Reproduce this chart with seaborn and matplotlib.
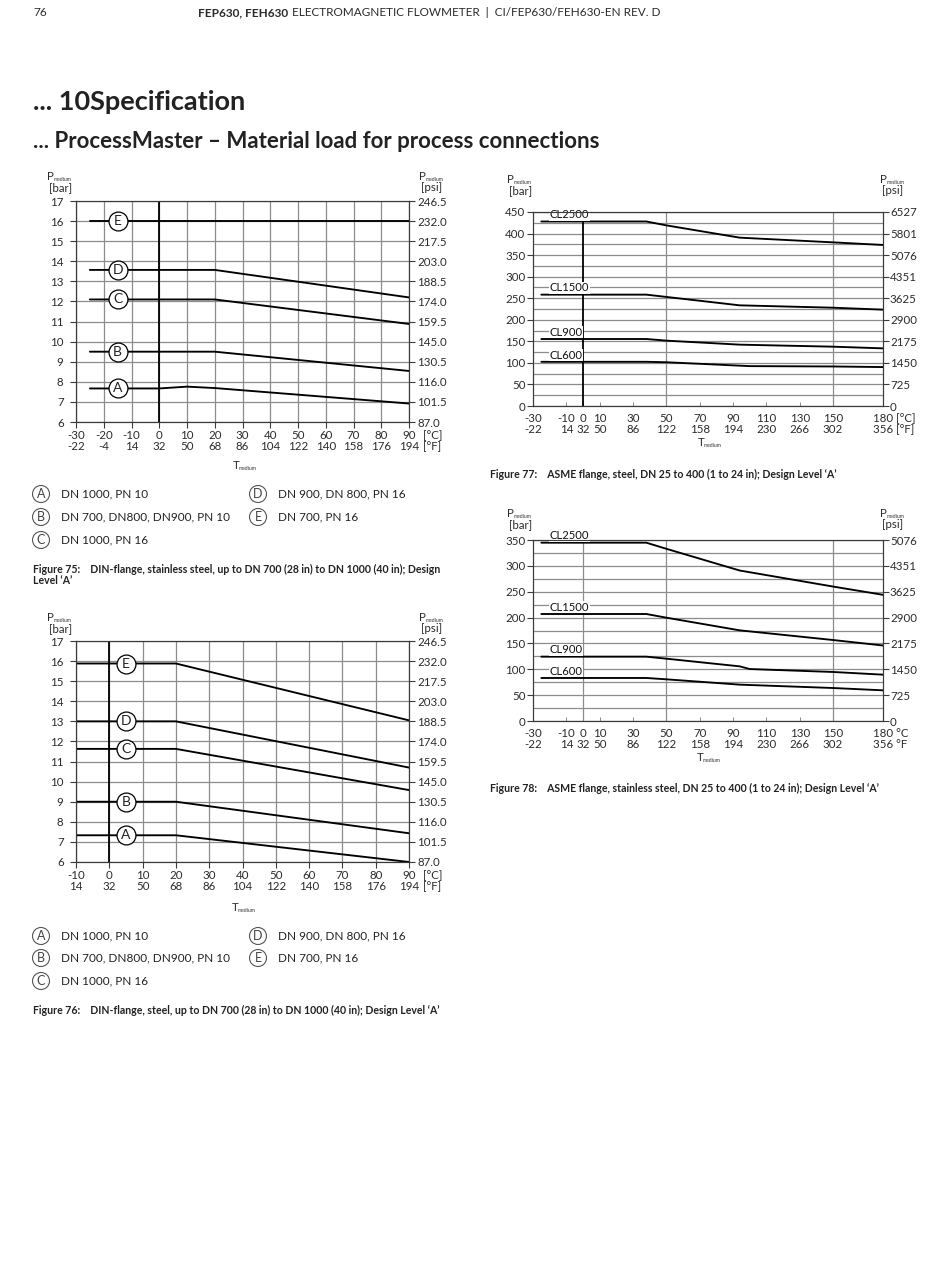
import matplotlib
matplotlib.use("Agg")
import matplotlib.pyplot as plt
from matplotlib.ticker import MultipleLocator
import numpy as np
import pandas as pd
import seaborn as sns

# ---------------- data ----------------
# Figure 75 – DIN flange, stainless steel
f75_temp_c = [-30, -20, -10, 0, 10, 20, 30, 40, 50, 60, 70, 80, 90]
f75_temp_f = ["-22", "-4", "14", "32", "50", "68", "86", "104", "122", "140", "158", "176", "194"]
din_bar_ticks = [6, 7, 8, 9, 10, 11, 12, 13, 14, 15, 16, 17]
din_psi_labels = ["87.0", "101.5", "116.0", "130.5", "145.0", "159.5", "174.0",
                  "188.5", "203.0", "217.5", "232.0", "246.5"]
f75_A_t = [-25, 0, 10, 20, 90]
f75_A_p = [7.67, 7.67, 7.76, 7.69, 6.92]
f75_B_t = [-25, 20, 90]
f75_B_p = [9.5, 9.5, 8.54]
f75_C_t = [-25, 20, 90]
f75_C_p = [12.1, 12.1, 10.88]
f75_D_t = [-25, 20, 90]
f75_D_p = [13.57, 13.57, 12.2]
f75_E_t = [-25, 90]
f75_E_p = [16.0, 16.0]
f75_marker_t = -15

# Figure 76 – DIN flange, steel
f76_temp_c = [-10, 0, 10, 20, 30, 40, 50, 60, 70, 80, 90]
f76_temp_f = ["14", "32", "50", "68", "86", "104", "122", "140", "158", "176", "194"]
f76_A_t = [-10, 20, 90]
f76_A_p = [7.33, 7.33, 6.0]
f76_B_t = [-10, 20, 90]
f76_B_p = [9.0, 9.0, 7.43]
f76_C_t = [-10, 20, 90]
f76_C_p = [11.63, 11.63, 9.58]
f76_D_t = [-10, 20, 90]
f76_D_p = [13.0, 13.0, 10.7]
f76_E_t = [-10, 20, 90]
f76_E_p = [15.88, 15.88, 13.05]
f76_marker_t = 5

# Figures 77 / 78 – ASME flanges
asme_temp_c = [-30, -10, 0, 10, 30, 50, 70, 90, 110, 130, 150, 180]
asme_temp_f = ["-22", "14", "32", "50", "86", "122", "158", "194", "230", "266", "302", "356"]

f77_bar_ticks = [0, 50, 100, 150, 200, 250, 300, 350, 400, 450]
f77_psi_labels = ["0", "725", "1450", "2175", "2900", "3625", "4351", "5076", "5801", "6527"]
f77_CL2500_t = [-25, 38, 50, 94, 150, 180]
f77_CL2500_p = [428, 428, 419, 390.5, 379.6, 373.5]
f77_CL1500_t = [-25, 38, 50, 94, 150, 180]
f77_CL1500_p = [258.3, 258.3, 253, 233.5, 228, 223.5]
f77_CL900_t = [-25, 38, 50, 94, 150, 180]
f77_CL900_p = [155.4, 155.4, 151.6, 142.3, 137.6, 133.7]
f77_CL600_t = [-25, 38, 50, 100, 150, 180]
f77_CL600_p = [102.5, 102.5, 101.5, 92.5, 91.7, 90.3]

f78_bar_ticks = [0, 50, 100, 150, 200, 250, 300, 350]
f78_psi_labels = ["0", "725", "1450", "2175", "2900", "3625", "4351", "5076"]
f78_CL2500_t = [-25, 38, 50, 94, 150, 180]
f78_CL2500_p = [344.8, 344.8, 333, 291, 260, 244]
f78_CL1500_t = [-25, 38, 50, 94, 150, 180]
f78_CL1500_p = [206.9, 206.9, 199.8, 175.3, 156.6, 146]
f78_CL900_t = [-25, 38, 50, 94, 100, 150, 180]
f78_CL900_p = [124.4, 124.4, 120.5, 105.7, 100.5, 94.8, 89.6]
f78_CL600_t = [-25, 38, 50, 94, 150, 180]
f78_CL600_p = [83.2, 83.2, 80.6, 70.3, 63.8, 59.3]

din_legend_letters = ["A", "B", "C", "D", "E"]
din_legend_texts = ["DN 1000, PN 10", "DN 700, DN800, DN900, PN 10", "DN 1000, PN 16",
                    "DN 900, DN 800, PN 16", "DN 700, PN 16"]

# ---------------- style ----------------
W, H = 950, 1277
sns.set_theme(style="white")
plt.rcParams["font.family"] = ["Lato", "DejaVu Sans"]
plt.rcParams["axes.unicode_minus"] = False
TXT = "#2b2b2b"
GRID = "#8c8c8c"
LINE_W = 1.35
TICK_FS = 8.3

fig = plt.figure(figsize=(W / 100, H / 100), dpi=100)
fig.patch.set_facecolor("white")


def fx(x):
    return x / W


def fy(y):
    return 1 - y / H


def add_axes_px(x0, y0, x1, y1):
    return fig.add_axes([x0 / W, 1 - y1 / H, (x1 - x0) / W, (y1 - y0) / H])


def draw_series(ax, series):
    rows = []
    for name, (ts, ps) in series.items():
        for t, p in zip(ts, ps):
            rows.append({"T": t, "P": p, "series": name})
    df = pd.DataFrame(rows)
    sns.lineplot(data=df, x="T", y="P", hue="series", units="series", estimator=None,
                 sort=False, palette={k: "black" for k in series}, legend=False,
                 linewidth=LINE_W, ax=ax, zorder=3)
    ax.set_xlabel("")
    ax.set_ylabel("")


def style_axes(ax):
    for s in ax.spines.values():
        s.set_visible(True)
        s.set_color("#3a3a3a")
        s.set_linewidth(0.8)


def p_label(x, y, unit):
    fig.text(fx(x), fy(y), "P", fontsize=8.3, color=TXT, va="baseline")
    fig.text(fx(x + 7), fy(y + 1), "medium", fontsize=3.6, color=TXT, va="baseline")
    fig.text(fx(x + 2), fy(y + 11), unit, fontsize=8.3, color=TXT, va="baseline")


def t_label(x, y):
    fig.text(fx(x), fy(y), "T", fontsize=8.3, color=TXT, va="baseline")
    fig.text(fx(x + 6), fy(y + 1), "medium", fontsize=3.6, color=TXT, va="baseline")


def din_chart(ax, temp_c, temp_f, series, marker_t, xlim):
    draw_series(ax, series)
    ax.set_xlim(*xlim)
    ax.set_ylim(6, 17)
    ax.set_xticks(temp_c)
    labels = [f"{c}\n{f}" for c, f in zip(temp_c, temp_f)]
    ax.set_xticklabels(labels)
    ax.set_yticks(din_bar_ticks)
    ax.set_yticklabels([str(v) for v in din_bar_ticks])
    ax.grid(True, color=GRID, linewidth=0.9)
    ax.set_axisbelow(True)
    ax.axvline(0, color="black", linewidth=1.3, zorder=2)
    ax.tick_params(axis="x", direction="out", length=4, width=0.8, color="#3a3a3a",
                   labelsize=TICK_FS, labelcolor=TXT, pad=1.5, bottom=True)
    ax.tick_params(axis="y", direction="out", length=4, width=0.8, color="#3a3a3a",
                   labelsize=TICK_FS, labelcolor=TXT, pad=5, left=True)
    for lbl in ax.get_xticklabels():
        lbl.set_linespacing(1.05)
    style_axes(ax)
    ax2 = ax.twinx()
    ax2.set_ylim(6, 17)
    ax2.set_yticks(din_bar_ticks)
    ax2.set_yticklabels(din_psi_labels)
    ax2.tick_params(axis="y", direction="out", length=4, width=0.8, color="#3a3a3a",
                    labelsize=TICK_FS, labelcolor=TXT, pad=2, right=True)
    ax2.grid(False)
    style_axes(ax2)
    # letter markers on each curve
    for name, (ts, ps) in series.items():
        py = np.interp(marker_t, ts, ps)
        ax.scatter([marker_t], [py], s=185, facecolor="white", edgecolor="black",
                   linewidths=0.9, zorder=5)
        ax.text(marker_t, py, name, ha="center", va="center", fontsize=10,
                color="#222222", zorder=6)
    ax.annotate("[°C]\n[°F]", xy=(1, 0), xycoords="axes fraction", xytext=(10, -5.5),
                textcoords="offset points", ha="left", va="top", fontsize=TICK_FS,
                color=TXT, linespacing=1.05)


def asme_chart(ax, series, bar_ticks, psi_labels, ymax, zero_black, unit_c, unit_f,
               label_offsets):
    draw_series(ax, series)
    ax.set_xlim(-30, 180)
    ax.set_ylim(0, ymax)
    ax.set_xticks(asme_temp_c)
    ax.set_xticklabels([f"{c}\n{f}" for c, f in zip(asme_temp_c, asme_temp_f)])
    ax.set_yticks(bar_ticks)
    ax.set_yticklabels([str(v) for v in bar_ticks])
    ax.yaxis.set_minor_locator(MultipleLocator(25))
    ax.grid(True, axis="y", which="both", color=GRID, linewidth=0.9)
    ax.set_axisbelow(True)
    for xv in (50, 150):
        ax.axvline(xv, color=GRID, linewidth=0.9, zorder=1)
    if zero_black:
        ax.axvline(0, ymax=433 / ymax, color="black", linewidth=1.3, zorder=2)
    else:
        ax.axvline(0, color=GRID, linewidth=0.9, zorder=1)
    ax.tick_params(axis="x", direction="in", length=3, width=0.6, color="#777777",
                   labelsize=TICK_FS, labelcolor=TXT, pad=5, bottom=True)
    ax.tick_params(axis="y", which="major", direction="out", length=4, width=0.8,
                   color="#3a3a3a", labelsize=TICK_FS, labelcolor=TXT, pad=1.5, left=True)
    ax.tick_params(axis="y", which="minor", length=0)
    labels = ax.get_xticklabels()
    labels[-1].set_text("")
    ax.set_xticklabels([l.get_text() for l in labels])
    for lbl in ax.get_xticklabels():
        lbl.set_linespacing(1.05)
    style_axes(ax)
    ax2 = ax.twinx()
    ax2.set_ylim(0, ymax)
    ax2.set_yticks(bar_ticks)
    ax2.set_yticklabels(psi_labels)
    ax2.tick_params(axis="y", direction="out", length=4, width=0.8, color="#3a3a3a",
                    labelsize=TICK_FS, labelcolor=TXT, pad=1, right=True)
    ax2.grid(False)
    style_axes(ax2)
    for name, (ts, ps) in series.items():
        ax.text(-20, ps[0] + label_offsets, name, ha="left", va="bottom",
                fontsize=8.1, color="#111111", zorder=6,
                bbox=dict(facecolor="white", edgecolor="none", pad=0.3))
    ax.annotate(f"{asme_temp_c[-1]} {unit_c}\n{asme_temp_f[-1]} {unit_f}", xy=(1, 0),
                xycoords="axes fraction", xytext=(-7, -5), textcoords="offset points",
                ha="left", va="top", fontsize=TICK_FS, color=TXT, linespacing=1.05)


# ---------------- header & titles ----------------
fig.text(fx(33), fy(13), "76", fontsize=8.5, color=TXT, va="center")
hb = fig.text(fx(198), fy(13), "FEP630, FEH630", fontsize=8.5, weight="bold",
              color=TXT, va="center")
fig.canvas.draw()
bb = hb.get_window_extent()
fig.text((bb.x1 + 4) / W, fy(13),
         "ELECTROMAGNETIC FLOWMETER  |  CI/FEP630/FEH630-EN REV. D",
         fontsize=8.5, color=TXT, va="center")
fig.text(fx(33), fy(110), "... 10Specification", fontsize=19.5, weight="bold",
         color="#222222", va="baseline")
fig.text(fx(33), fy(148), "... ProcessMaster \u2013 Material load for process connections",
         fontsize=16, weight="bold", color="#222222", va="baseline")

# ---------------- Figure 75 ----------------
ax75 = add_axes_px(76, 201, 409, 422)
din_chart(ax75, f75_temp_c, f75_temp_f,
          {"A": (f75_A_t, f75_A_p), "B": (f75_B_t, f75_B_p), "C": (f75_C_t, f75_C_p),
           "D": (f75_D_t, f75_D_p), "E": (f75_E_t, f75_E_p)},
          f75_marker_t, (-30, 90))
p_label(47, 180, "[bar]")
p_label(419, 180, "[psi]")
t_label(233, 469)

# ---------------- Figure 76 ----------------
ax76 = add_axes_px(76, 641, 409, 862)
din_chart(ax76, f76_temp_c, f76_temp_f,
          {"A": (f76_A_t, f76_A_p), "B": (f76_B_t, f76_B_p), "C": (f76_C_t, f76_C_p),
           "D": (f76_D_t, f76_D_p), "E": (f76_E_t, f76_E_p)},
          f76_marker_t, (-10, 90))
p_label(47, 621, "[bar]")
p_label(419, 621, "[psi]")
t_label(232, 911)

# ---------------- Figure 77 ----------------
ax77 = add_axes_px(533, 212, 883, 406)
asme_chart(ax77, {"CL2500": (f77_CL2500_t, f77_CL2500_p),
                  "CL1500": (f77_CL1500_t, f77_CL1500_p),
                  "CL900": (f77_CL900_t, f77_CL900_p),
                  "CL600": (f77_CL600_t, f77_CL600_p)},
           f77_bar_ticks, f77_psi_labels, 450, True, "[°C]", "[°F]", 3)
p_label(507, 183, "[bar]")
p_label(880, 183, "[psi]")
t_label(698, 446)

# ---------------- Figure 78 ----------------
ax78 = add_axes_px(533, 540, 883, 721)
asme_chart(ax78, {"CL2500": (f78_CL2500_t, f78_CL2500_p),
                  "CL1500": (f78_CL1500_t, f78_CL1500_p),
                  "CL900": (f78_CL900_t, f78_CL900_p),
                  "CL600": (f78_CL600_t, f78_CL600_p)},
           f78_bar_ticks, f78_psi_labels, 350, False, "°C", "°F", 2.5)
p_label(507, 517, "[bar]")
p_label(880, 517, "[psi]")
t_label(697, 761)


# ---------------- legends ----------------
def din_legend(y_rows):
    pos = [(41, y_rows[0]), (41, y_rows[1]), (41, y_rows[2]), (258, y_rows[0]), (258, y_rows[1])]
    for (cx, cy), letter, txt in zip(pos, din_legend_letters, din_legend_texts):
        fig.patches.append(matplotlib.patches.Ellipse((fx(cx), fy(cy)), 17 / W, 17 / H,
                                                      transform=fig.transFigure,
                                                      facecolor="white", edgecolor="#555555",
                                                      linewidth=0.8))
        fig.text(fx(cx), fy(cy), letter, ha="center", va="center", fontsize=9,
                 color="#444444")
        fig.text(fx(cx + 20), fy(cy), txt, ha="left", va="center", fontsize=8.5,
                 color="#222222")


din_legend([494, 517, 540])
din_legend([936, 958, 981])

# ---------------- captions ----------------
CAP_FS = 7.6
fig.text(fx(33), fy(569), "Figure 75:    DIN-flange, stainless steel, up to DN 700 (28 in) to DN 1000 (40 in); Design",
         fontsize=CAP_FS, weight="bold", color="#222222", va="center")
fig.text(fx(33), fy(581), "Level \u2018A\u2019", fontsize=CAP_FS, weight="bold",
         color="#222222", va="center")
fig.text(fx(33), fy(1010), "Figure 76:    DIN-flange, steel, up to DN 700 (28 in) to DN 1000 (40 in); Design Level \u2018A\u2019",
         fontsize=CAP_FS, weight="bold", color="#222222", va="center")
fig.text(fx(490), fy(474), "Figure 77:    ASME flange, steel, DN 25 to 400 (1 to 24 in); Design Level \u2018A\u2019",
         fontsize=CAP_FS, weight="bold", color="#222222", va="center")
fig.text(fx(490), fy(788), "Figure 78:    ASME flange, stainless steel, DN 25 to 400 (1 to 24 in); Design Level \u2018A\u2019",
         fontsize=CAP_FS, weight="bold", color="#222222", va="center")

fig.savefig("out.png", dpi=100, facecolor="white")
